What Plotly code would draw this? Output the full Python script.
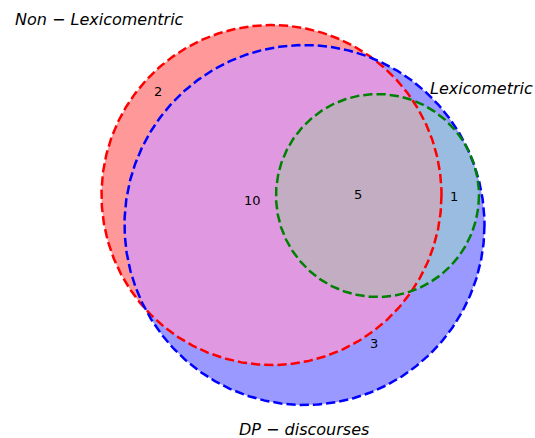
import numpy as np
import plotly.graph_objects as go

# ---- data ----
set_labels = ["Non − Lexicomentric", "Lexicometric", "DP − discourses"]
region_names = ["Non-Lex only", "Non-Lex & DP", "All three", "Lex & DP", "DP only"]
region_counts = [2, 10, 5, 1, 3]

# ---- geometry (layout, pixel space) ----
circles = {
    "red": (271.5, 195.0, 170.0),
    "blue": (304.5, 225.0, 180.0),
    "green": (377.5, 195.5, 101.5),
}
label_pos = [(99, 19), (481, 88), (304, 429)]
count_pos = [(158, 91), (252, 200), (358, 194), (454, 196), (374, 343)]


def circ_pts(c, n=720):
    cx, cy, r = c
    t = np.linspace(0, 2 * np.pi, n, endpoint=False)
    return np.c_[cx + r * np.cos(t), cy + r * np.sin(t)]


def inside(p, c):
    cx, cy, r = c
    return (p[:, 0] - cx) ** 2 + (p[:, 1] - cy) ** 2 <= r * r + 1e-9


def lens(a, b):
    pa, pb = circ_pts(a), circ_pts(b)
    pts = np.vstack([pa[inside(pa, b)], pb[inside(pb, a)]])
    m = pts.mean(axis=0)
    ang = np.arctan2(pts[:, 1] - m[1], pts[:, 0] - m[0])
    return pts[np.argsort(ang)]


fig = go.Figure()


def add_poly(pts, color):
    x = list(pts[:, 0]) + [pts[0, 0]]
    y = list(pts[:, 1]) + [pts[0, 1]]
    fig.add_trace(go.Scatter(x=x, y=y, fill="toself", fillcolor=color, mode="lines",
                             line=dict(width=0), hoverinfo="skip", showlegend=False))


add_poly(circ_pts(circles["red"]), "rgb(255,153,153)")
add_poly(circ_pts(circles["blue"]), "rgb(153,153,255)")
add_poly(lens(circles["red"], circles["blue"]), "rgb(224,153,224)")
add_poly(circ_pts(circles["green"]), "rgb(153,188,224)")
add_poly(lens(circles["green"], circles["red"]), "rgb(194,173,194)")

for name, col in [("red", "#ff0000"), ("blue", "#0000ff"), ("green", "#008000")]:
    pts = circ_pts(circles[name])
    fig.add_trace(go.Scatter(x=list(pts[:, 0]) + [pts[0, 0]], y=list(pts[:, 1]) + [pts[0, 1]],
                             mode="lines", line=dict(color=col, width=2.5, dash="9.25px,4px"),
                             hoverinfo="skip", showlegend=False))

for lab, (x, y) in zip(set_labels, label_pos):
    a, b = lab.split(" − ") if " − " in lab else (lab, None)
    txt = f"<i>{a}</i> − <i>{b}</i>" if b else f"<i>{a}</i>"
    fig.add_annotation(x=x, y=y, text=txt, showarrow=False,
                       font=dict(family="DejaVu Sans", size=16, color="black"))

for cnt, (x, y) in zip(region_counts, count_pos):
    fig.add_annotation(x=x, y=y, text=str(cnt), showarrow=False,
                       font=dict(family="DejaVu Sans", size=13, color="black"))

fig.update_xaxes(range=[0, 535], visible=False)
fig.update_yaxes(range=[438, 0], visible=False)
fig.update_layout(width=535, height=438, margin=dict(l=0, r=0, t=0, b=0),
                  plot_bgcolor="white", paper_bgcolor="white", hovermode=False)
fig.write_html("out.html", config={"displayModeBar": False, "staticPlot": True},
               post_script="document.body.style.margin='0';document.body.style.overflow='hidden';")
